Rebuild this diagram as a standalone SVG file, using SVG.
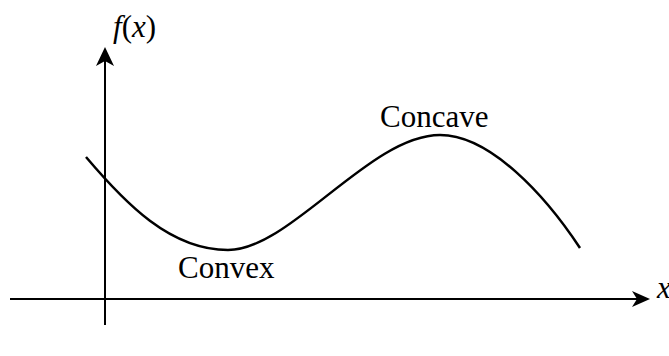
<svg xmlns="http://www.w3.org/2000/svg" width="669" height="356" viewBox="0 0 669 356">
<style>
.ax{stroke:#000;stroke-width:2;fill:none}
.cv{stroke:#000;stroke-width:2.5;fill:none}
text{font-family:"Liberation Serif","Times New Roman",serif;font-size:31px;fill:#000}
.i{font-style:italic}
</style>
<rect width="669" height="356" fill="#fff"/>
<g id="axes">
<line class="ax" x1="105" y1="325" x2="105" y2="60"/>
<polygon points="105,47 96,66 105,61 114,66" fill="#000"/>
<line class="ax" x1="10" y1="299" x2="640" y2="299"/>
<polygon points="650,299 632,291 637,299 632,307" fill="#000"/>
</g>
<g id="curve">
<path class="cv" d="M86,157 C125,203 170,250 228,250 C290,250 370,135 440,135 C490,135 545,195 580,248"/>
</g>
<g id="labels">
<text x="113" y="37"><tspan class="i">f</tspan>(<tspan class="i">x</tspan>)</text>
<text x="380" y="127">Concave</text>
<text x="178" y="278">Convex</text>
<text class="i" x="657" y="298">x</text>
</g>
</svg>
